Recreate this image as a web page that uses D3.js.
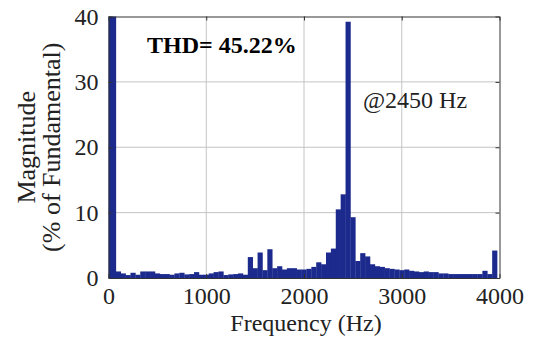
<!DOCTYPE html>
<html><head><meta charset="utf-8">
<script src="https://cdn.jsdelivr.net/npm/d3@7"></script>
<style>body{margin:0;background:#fff;}svg{display:block;}</style>
</head><body>
<script>
const binWidthHz = 50;
const frequencies = d3.range(0, 4000, 50);
const magnitudes = [
  100, 100, 1.0, 0.7, 0.45, 0.8, 0.5, 1.0, 1.0, 1.0,
  0.7, 0.6, 0.6, 0.5, 0.7, 0.8, 0.55, 0.6, 0.9, 0.5,
  0.5, 0.7, 0.9, 1.0, 0.45, 0.55, 0.6, 0.7, 0.5, 3.2,
  1.5, 3.9, 1.2, 4.4, 1.5, 1.8, 1.3, 1.5, 1.5, 1.3,
  1.3, 1.4, 1.7, 2.4, 2.1, 3.9, 4.5, 10.5, 12.8, 39.2,
  9.3, 2.6, 3.8, 3.3, 2.1, 1.8, 1.7, 1.5, 1.4, 1.3,
  1.2, 1.3, 1.1, 1.0, 0.9, 1.0, 0.9, 0.9, 0.7, 0.7,
  0.6, 0.6, 0.6, 0.6, 0.6, 0.6, 0.6, 1.1, 0.6, 4.2
];
const xTicks = [0, 1000, 2000, 3000, 4000];
const yTicks = [0, 10, 20, 30, 40];
const thdLabel = "THD= 45.22%";
const peakLabel = "@2450 Hz";

const W = 533, H = 339;
const m = {left: 108.5, right: 499.5, top: 16.5, bottom: 278};
const svg = d3.select("body").append("svg").attr("width", W).attr("height", H);
const x = d3.scaleLinear().domain([0, 4000]).range([m.left, m.right]);
const y = d3.scaleLinear().domain([0, 40]).range([m.bottom, m.top]);
const font = "'Liberation Serif', 'Times New Roman', serif";

svg.append("defs").append("clipPath").attr("id", "clip")
  .append("rect").attr("x", m.left).attr("y", m.top)
  .attr("width", m.right - m.left).attr("height", m.bottom - m.top);

// grid
const grid = svg.append("g").attr("stroke", "#c4c4c4").attr("stroke-width", 1);
xTicks.slice(1, -1).forEach(t => grid.append("line")
  .attr("x1", x(t)).attr("x2", x(t)).attr("y1", m.top).attr("y2", m.bottom));
yTicks.slice(1, -1).forEach(t => grid.append("line")
  .attr("x1", m.left).attr("x2", m.right).attr("y1", y(t)).attr("y2", y(t)));

// bars
svg.append("g").attr("clip-path", "url(#clip)")
  .selectAll("rect").data(frequencies.map((f, i) => ({f, v: magnitudes[i]})))
  .join("rect")
  .attr("x", d => x(d.f - binWidthHz / 2))
  .attr("width", d => x(d.f + binWidthHz / 2) - x(d.f - binWidthHz / 2) + 0.3)
  .attr("y", d => y(Math.min(d.v, 41)))
  .attr("height", d => y(0) - y(Math.min(d.v, 41)))
  .attr("fill", "#1b2a8c");

// axes (inward ticks)
const axStyle = g => {
  g.selectAll("path").attr("stroke", "#333");
  g.selectAll("line").attr("stroke", "#333");
  g.selectAll("text").attr("font-family", font).attr("font-size", 24).attr("fill", "#222");
};
svg.append("g").attr("transform", `translate(0,${m.bottom})`)
  .call(d3.axisBottom(x).tickValues(xTicks).tickFormat(d3.format("d")).tickSizeInner(-4).tickSizeOuter(0).tickPadding(9))
  .call(axStyle);
svg.append("g").attr("transform", `translate(${m.left},0)`)
  .call(d3.axisLeft(y).tickValues(yTicks).tickSizeInner(-4).tickSizeOuter(0).tickPadding(10))
  .call(axStyle);
svg.append("g").attr("transform", `translate(0,${m.top})`)
  .call(d3.axisTop(x).tickValues(xTicks).tickFormat("").tickSizeInner(-4).tickSizeOuter(0))
  .call(axStyle);
svg.append("g").attr("transform", `translate(${m.right},0)`)
  .call(d3.axisRight(y).tickValues(yTicks).tickFormat("").tickSizeInner(-4).tickSizeOuter(0))
  .call(axStyle);

// annotations
svg.append("text").attr("x", 147).attr("y", 53).text(thdLabel)
  .attr("font-family", font).attr("font-size", 24).attr("font-weight", "bold").attr("fill", "#000");
svg.append("text").attr("x", 363).attr("y", 108).text(peakLabel)
  .attr("font-family", font).attr("font-size", 24).attr("fill", "#222");

// axis labels
svg.append("text").attr("x", 306).attr("y", 331).attr("text-anchor", "middle")
  .text("Frequency (Hz)").attr("font-family", font).attr("font-size", 24).attr("fill", "#222");
const cy = (m.top + m.bottom) / 2;
svg.append("text").attr("transform", `translate(35,${cy}) rotate(-90)`)
  .attr("text-anchor", "middle").attr("font-family", font).attr("font-size", 26).attr("fill", "#222")
  .text("Magnitude");
svg.append("text").attr("transform", `translate(60,${cy}) rotate(-90)`)
  .attr("text-anchor", "middle").attr("font-family", font).attr("font-size", 26).attr("fill", "#222")
  .text("(% of Fundamental)");
</script>
</body></html>
